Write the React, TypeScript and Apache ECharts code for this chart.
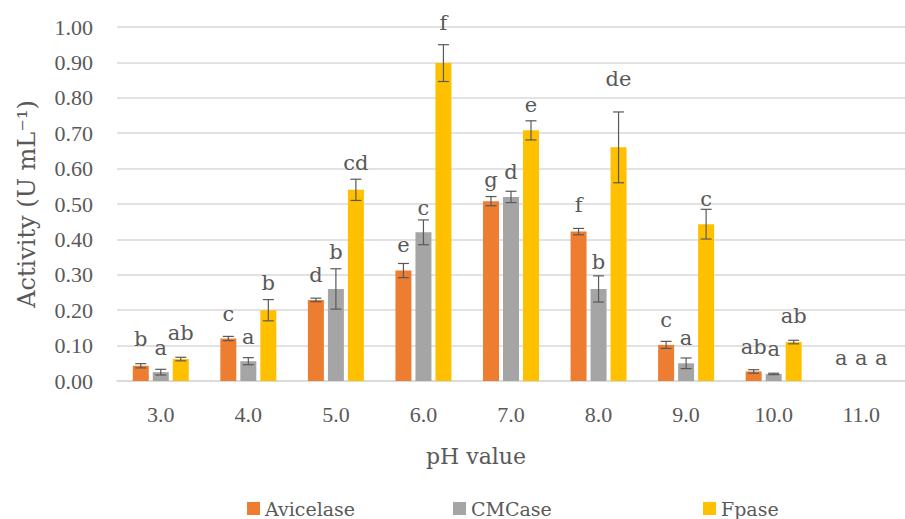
import React, { useEffect, useRef } from "react";
import * as echarts from "echarts";

const categories = ["3.0", "4.0", "5.0", "6.0", "7.0", "8.0", "9.0", "10.0", "11.0"];
const seriesNames = ["Avicelase", "CMCase", "Fpase"];
const colors = ["#ED7D31", "#A5A5A5", "#FFC000"];

const avicelase = [0.043, 0.12, 0.229, 0.312, 0.508, 0.422, 0.102, 0.027, 0];
const cmcase = [0.025, 0.056, 0.26, 0.42, 0.52, 0.26, 0.05, 0.02, 0];
const fpase = [0.062, 0.2, 0.54, 0.898, 0.708, 0.66, 0.443, 0.11, 0];

const avicelaseErr = [0.006, 0.006, 0.005, 0.02, 0.013, 0.009, 0.01, 0.005, 0];
const cmcaseErr = [0.008, 0.01, 0.057, 0.035, 0.016, 0.037, 0.015, 0.002, 0];
const fpaseErr = [0.005, 0.03, 0.03, 0.052, 0.027, 0.1, 0.042, 0.005, 0];

const avicelaseLetters = ["b", "c", "d", "e", "g", "f", "c", "ab", "a"];
const cmcaseLetters = ["a", "a", "b", "c", "d", "b", "a", "a", "a"];
const fpaseLetters = ["ab", "b", "cd", "f", "e", "de", "c", "ab", "a"];

const avicelaseLetterY = [0.12, 0.19, 0.3, 0.384, 0.568, 0.497, 0.172, 0.096, 0.065];
const cmcaseLetterY = [0.093, 0.125, 0.365, 0.49, 0.59, 0.337, 0.122, 0.09, 0.065];
const fpaseLetterY = [0.135, 0.276, 0.615, 1.01, 0.78, 0.853, 0.514, 0.184, 0.065];

const yTicks = { min: 0, max: 1, interval: 0.1 };

const values = [avicelase, cmcase, fpase];
const errs = [avicelaseErr, cmcaseErr, fpaseErr];
const letters = [avicelaseLetters, cmcaseLetters, fpaseLetters];
const letterYs = [avicelaseLetterY, cmcaseLetterY, fpaseLetterY];

const TEXT = "#595959";
const SERIF_NUM = "'Liberation Serif', serif";
const SERIF_TXT = "'DejaVu Serif', serif";
const BAR_W = 16;
const BAR_STEP = 20;

export default function App() {
  const ref = useRef<HTMLDivElement>(null);
  useEffect(() => {
    if (!ref.current) return;
    const chart = echarts.init(ref.current, undefined, { renderer: "svg" });

    const barSeries = seriesNames.map((name, i) => ({
      name,
      type: "bar",
      data: values[i],
      barWidth: BAR_W,
      barGap: "25%",
      itemStyle: { color: colors[i] },
      z: 2,
    }));

    const errSeries = seriesNames.map((name, i) => ({
      name: name + "-err",
      type: "custom",
      z: 5,
      silent: true,
      data: categories.map((_, k) => [k, values[i][k], errs[i][k], letterYs[i][k]]),
      renderItem: (params: any, api: any) => {
        const k = api.value(0);
        const v = api.value(1);
        const e = api.value(2);
        const ly = api.value(3);
        const off = (i - 1) * BAR_STEP;
        const top = api.coord([k, v + e]);
        const bot = api.coord([k, v - e]);
        const lp = api.coord([k, ly]);
        const x = top[0] + off;
        const children: any[] = [];
        if (e > 0) {
          const cw = 5.5;
          const st = { stroke: "#595959", lineWidth: 1.2 };
          children.push({ type: "line", shape: { x1: x, y1: top[1], x2: x, y2: bot[1] }, style: st });
          children.push({ type: "line", shape: { x1: x - cw, y1: top[1], x2: x + cw, y2: top[1] }, style: st });
          children.push({ type: "line", shape: { x1: x - cw, y1: bot[1], x2: x + cw, y2: bot[1] }, style: st });
        }
        children.push({
          type: "text",
          style: {
            x,
            y: lp[1],
            text: letters[i][k],
            fill: TEXT,
            font: `21px ${SERIF_TXT}`,
            align: "center",
            verticalAlign: "middle",
          },
        });
        return { type: "group", children };
      },
    }));

    const legends = seriesNames.map((name, i) => ({
      data: [name],
      left: [242, 448, 698][i],
      top: 494,
      itemWidth: 13,
      itemHeight: 13,
      icon: "rect",
      itemGap: 0,
      textStyle: { color: TEXT, fontSize: 19, fontFamily: SERIF_TXT, padding: [0, 0, 0, 0] },
    }));

    chart.setOption({
      animation: false,
      backgroundColor: "#ffffff",
      legend: legends,
      grid: { left: 117, top: 27, width: 801, height: 354, containLabel: false },
      xAxis: {
        type: "category",
        data: categories,
        axisLine: { show: true, lineStyle: { color: "#D9D9D9", width: 1.5 } },
        axisTick: { show: false },
        axisLabel: { color: TEXT, fontSize: 22, fontFamily: SERIF_NUM, margin: 22 },
        name: "pH value",
        nameLocation: "middle",
        nameGap: 64,
        nameTextStyle: { color: TEXT, fontSize: 22, fontFamily: SERIF_TXT, padding: [0, 70, 0, 0] },
      },
      yAxis: {
        type: "value",
        min: yTicks.min,
        max: yTicks.max,
        interval: yTicks.interval,
        axisLine: { show: false },
        axisTick: { show: false },
        splitLine: { lineStyle: { color: "#D9D9D9", width: 1.5 } },
        axisLabel: {
          color: TEXT,
          fontSize: 22,
          fontFamily: SERIF_NUM,
          margin: 24,
          formatter: (v: number) => v.toFixed(2),
        },
        name: "Activity (U mL\u207B\u00B9)",
        nameLocation: "middle",
        nameGap: 78,
        nameTextStyle: { color: TEXT, fontSize: 24, fontFamily: SERIF_TXT },
      },
      series: [...barSeries, ...errSeries],
    });
    return () => chart.dispose();
  }, []);
  return <div ref={ref} style={{ width: 905, height: 519, position: "fixed", left: 0, top: 0 }} />;
}
